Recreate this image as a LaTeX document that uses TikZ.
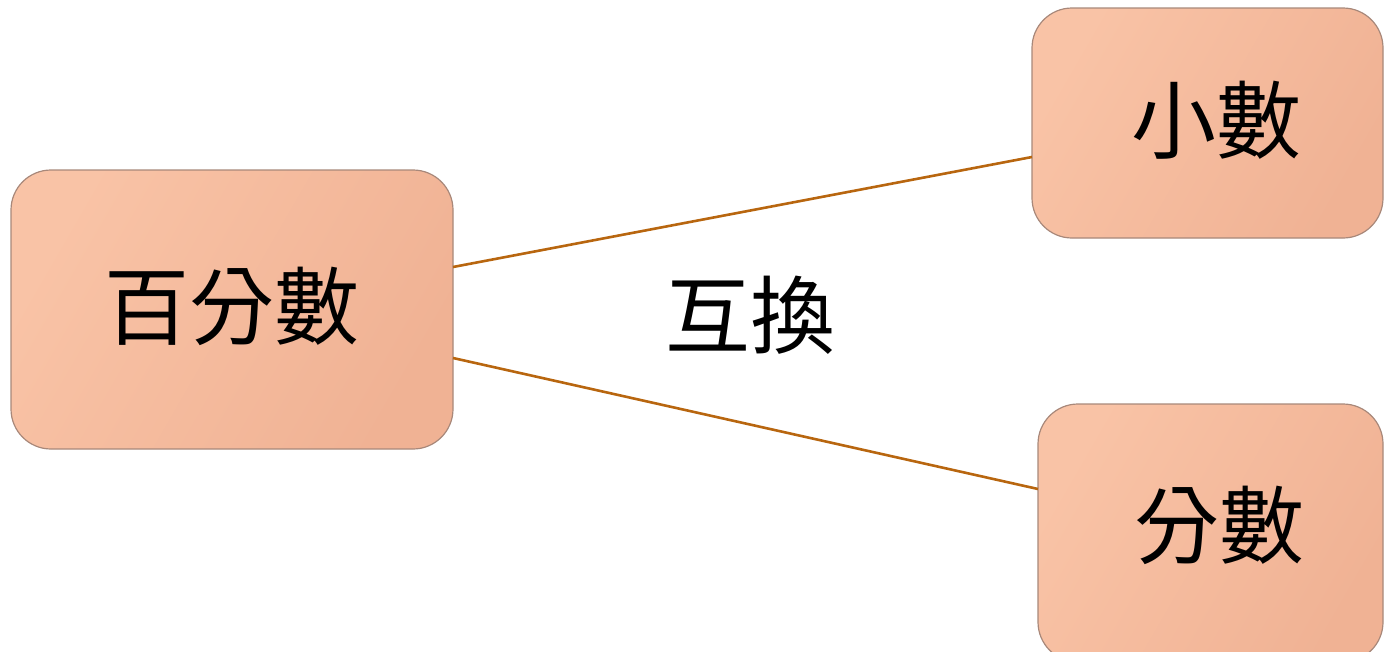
\documentclass[tikz,border=0pt]{standalone}
\usepackage{fontspec}
\newfontfamily\cjk{Noto Sans CJK TC}
\definecolor{boxlight}{HTML}{F9C3A6}
\definecolor{boxdark}{HTML}{F0B294}
\definecolor{boxedge}{HTML}{A8887A}
\definecolor{linkcol}{HTML}{B8660F}
\begin{document}
\begin{tikzpicture}[x=1pt,y=-1pt,
  termbox/.style={draw=boxedge, line width=1.2pt, rounded corners=40pt,
    top color=boxlight, bottom color=boxdark, shading angle=60},
  termtext/.style={font=\cjk\fontsize{85}{95}\selectfont, inner sep=0pt},
  link/.style={draw=linkcol, line width=2.6pt}]
\useasboundingbox (0,0) rectangle (1384,651);
\clip (0,0) rectangle (1384,651);
\path[termbox] (11,170) rectangle (453,449);
\path[termbox] (1032,8) rectangle (1383,238);
\path[termbox] (1038,404) rectangle (1383,662);
\node[termtext] (pct) at (232,306) {百分數};
\node[termtext] (dec) at (1216,120) {小數};
\node[termtext] (frac) at (1219,525) {分數};
\node[termtext] (swap) at (750,315) {互換};
\coordinate (pctA) at (453,267);
\coordinate (pctB) at (453,358);
\coordinate (decA) at (1032,157);
\coordinate (fracA) at (1038,489);
\draw[link] (pctA) -- (decA);
\draw[link] (pctB) -- (fracA);
\end{tikzpicture}
\end{document}
